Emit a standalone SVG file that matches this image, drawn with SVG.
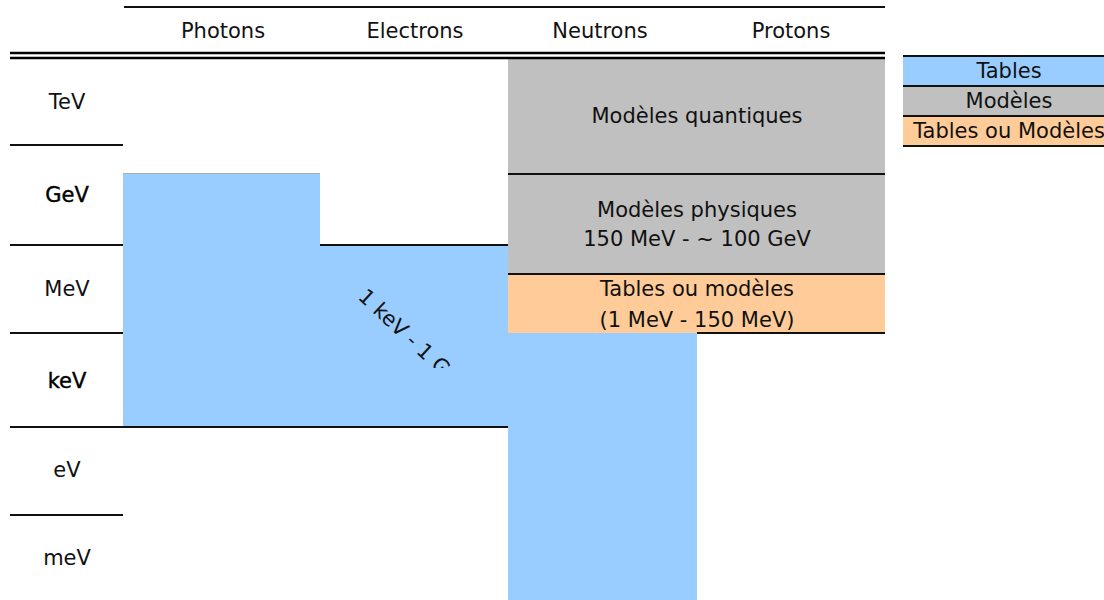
<svg xmlns="http://www.w3.org/2000/svg" width="1104" height="600" viewBox="0 0 1104 600">
<style>
text{font-family:"DejaVu Sans","Liberation Sans",sans-serif;font-size:21px;fill:#111;text-anchor:middle}
.ln{stroke:#111;stroke-width:2;fill:none}
.hd{stroke:#000;stroke-width:2.5;fill:none}
.blue{fill:#99CCFF}
.gray{fill:#C0C0C0}
.orange{fill:#FFCC99}
</style>
<defs>
<clipPath id="clipE"><rect x="320" y="245" width="188" height="123"/></clipPath>
</defs>
<rect width="1104" height="600" fill="#fff"/>
<g id="blocks">
<g id="photons-tables"><rect class="blue" x="123" y="173" width="197" height="254"/><line x1="123" y1="173.5" x2="320" y2="173.5" stroke="#aaa" stroke-width="1"/></g>
<g id="electrons-tables"><rect class="blue" x="320" y="245" width="188" height="182"/>
<g clip-path="url(#clipE)"><text transform="translate(357,298) rotate(43)" style="text-anchor:start">1 keV - 1 GeV</text></g></g>
<g id="neutrons-tables"><rect class="blue" x="508" y="333" width="189" height="267"/></g>
<g id="quantum"><rect class="gray" x="508" y="59" width="377" height="115"/><text x="697" y="123">Modèles quantiques</text></g>
<g id="physics"><rect class="gray" x="508" y="174" width="377" height="100"/><text x="697" y="217">Modèles physiques</text><text x="697" y="246">150 MeV - ~ 100 GeV</text></g>
<g id="tables-models"><rect class="orange" x="508" y="274" width="377" height="59"/><text x="697" y="296">Tables ou modèles</text><text x="697" y="327">(1 MeV - 150 MeV)</text></g>
</g>
<g id="lines">
<line class="ln" x1="124" y1="7" x2="885" y2="7"/>
<line class="hd" x1="10" y1="53" x2="885" y2="53"/>
<line class="hd" x1="10" y1="58" x2="885" y2="58"/>
<line class="ln" x1="10" y1="145" x2="123" y2="145"/>
<line class="ln" x1="10" y1="245" x2="123" y2="245"/>
<line class="ln" x1="320" y1="245" x2="508" y2="245"/>
<line class="ln" x1="10" y1="333" x2="123" y2="333"/>
<line class="ln" x1="697" y1="333" x2="885" y2="333"/>
<line class="ln" x1="10" y1="427" x2="508" y2="427"/>
<line class="ln" x1="10" y1="515" x2="123" y2="515"/>
<line class="ln" x1="508" y1="174" x2="885" y2="174"/>
<line class="ln" x1="508" y1="274" x2="885" y2="274"/>
</g>
<g id="headers">
<text x="223" y="38">Photons</text>
<text x="415" y="38">Electrons</text>
<text x="600" y="38">Neutrons</text>
<text x="791" y="38">Protons</text>
</g>
<g id="rows">
<text x="67" y="109">TeV</text>
<text x="67" y="202" style="fill:#000;stroke:#000;stroke-width:0.4">GeV</text>
<text x="67" y="296">MeV</text>
<text x="67" y="388" style="fill:#000;stroke:#000;stroke-width:0.4">keV</text>
<text x="67" y="477">eV</text>
<text x="67" y="565">meV</text>
</g>
<g id="legend">
<g id="legend-tables"><rect class="blue" x="903" y="56" width="201" height="30"/><text x="1009" y="78">Tables</text></g>
<g id="legend-models"><rect class="gray" x="903" y="86" width="201" height="30"/><text x="1009" y="108">Modèles</text></g>
<g id="legend-both"><rect class="orange" x="903" y="116" width="201" height="30"/><text x="1009" y="138">Tables ou Modèles</text></g>
<line class="ln" x1="903" y1="56" x2="1104" y2="56" stroke-width="1.5"/>
<line class="ln" x1="903" y1="86" x2="1104" y2="86" stroke-width="1.5"/>
<line class="ln" x1="903" y1="116" x2="1104" y2="116" stroke-width="1.5"/>
<line class="ln" x1="903" y1="146" x2="1104" y2="146" stroke-width="1.5"/>
</g>
</svg>
